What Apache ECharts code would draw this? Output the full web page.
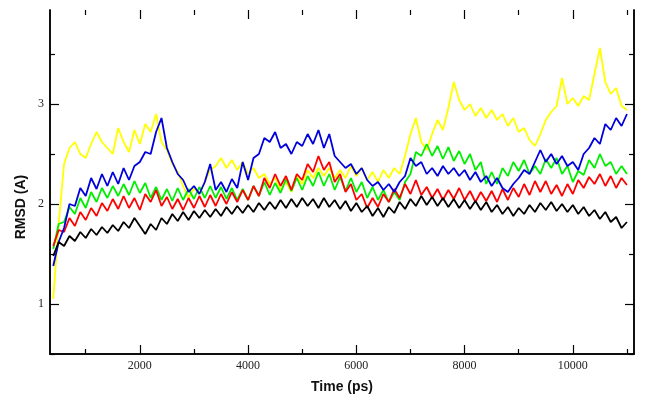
<!DOCTYPE html>
<html>
<head>
<meta charset="utf-8">
<script src="https://cdn.jsdelivr.net/npm/echarts@6/dist/echarts.min.js"></script>
<style>
  html, body { margin: 0; padding: 0; background: #fff; }
  #chart { width: 645px; height: 399px; }
</style>
</head>
<body>
<div id="chart"></div>
<script>
// sampling grid: one reading every 100 ps, 400..11000
const times = [];
for (let t = 400; t <= 11000; t += 100) times.push(t);

const xMajorTicks = [2000, 4000, 6000, 8000, 10000];
const xMinorTicks = [1000, 3000, 5000, 7000, 9000, 11000];
const yMajorTicks = [1, 2, 3];
const yMinorTicks = [0.5, 1.5, 2.5, 3.5];

// RMSD values (A)
const black = [
  1.48,1.62,1.58,1.68,1.63,1.72,1.66,1.75,1.69,1.77,
  1.71,1.79,1.73,1.82,1.76,1.86,1.78,1.70,1.80,1.74,
  1.86,1.80,1.90,1.83,1.92,1.84,1.93,1.86,1.94,1.87,
  1.95,1.88,1.97,1.90,1.98,1.91,1.99,1.92,2.01,1.94,
  2.02,1.95,2.04,1.96,2.05,1.97,2.06,1.98,2.05,1.96,
  2.06,1.97,2.04,1.95,2.03,1.93,2.01,1.92,1.98,1.88,
  1.96,1.87,1.97,1.91,2.02,1.95,2.05,1.98,2.08,1.99,
  2.07,1.98,2.06,1.97,2.05,1.96,2.04,1.95,2.03,1.94,
  2.02,1.92,1.99,1.90,1.97,1.88,1.96,1.90,1.99,1.92,
  2.01,1.94,2.02,1.93,2.00,1.92,1.99,1.90,1.97,1.88,
  1.94,1.85,1.92,1.82,1.87,1.76,1.82
];
const red = [
  1.58,1.74,1.72,1.86,1.78,1.92,1.84,1.96,1.88,2.01,
  1.93,2.05,1.95,2.08,1.96,2.06,1.94,2.10,2.02,2.14,
  1.98,2.07,1.95,2.05,1.94,2.06,1.96,2.08,1.97,2.09,
  1.98,2.10,2.00,2.12,2.02,2.14,2.04,2.18,2.08,2.26,
  2.16,2.30,2.18,2.28,2.14,2.30,2.24,2.40,2.32,2.48,
  2.34,2.42,2.22,2.30,2.12,2.20,2.04,2.10,1.96,2.06,
  1.97,2.10,2.02,2.15,2.06,2.20,2.10,2.24,2.09,2.17,
  2.06,2.15,2.04,2.14,2.05,2.16,2.04,2.13,2.02,2.12,
  2.03,2.13,2.02,2.15,2.04,2.16,2.07,2.20,2.09,2.23,
  2.12,2.23,2.10,2.19,2.08,2.20,2.10,2.24,2.16,2.27,
  2.20,2.30,2.18,2.28,2.16,2.26,2.19
];
const green = [
  1.55,1.80,1.82,1.97,1.90,2.06,1.96,2.12,2.02,2.16,
  2.06,2.18,2.08,2.20,2.09,2.23,2.11,2.21,2.06,2.17,
  2.04,2.15,2.03,2.16,2.04,2.15,2.05,2.17,2.06,2.18,
  2.06,2.17,2.05,2.16,2.04,2.15,2.04,2.18,2.08,2.22,
  2.09,2.21,2.11,2.25,2.13,2.26,2.14,2.28,2.18,2.32,
  2.18,2.30,2.14,2.27,2.13,2.26,2.12,2.22,2.06,2.17,
  2.04,2.14,2.02,2.12,2.04,2.22,2.30,2.52,2.48,2.60,
  2.48,2.58,2.45,2.57,2.43,2.53,2.40,2.50,2.34,2.42,
  2.20,2.32,2.20,2.36,2.28,2.42,2.33,2.44,2.30,2.38,
  2.30,2.45,2.36,2.46,2.30,2.38,2.22,2.33,2.29,2.44,
  2.36,2.50,2.38,2.42,2.30,2.38,2.30
];
const blue = [
  1.38,1.62,1.76,2.00,1.98,2.16,2.08,2.26,2.15,2.30,
  2.18,2.32,2.20,2.36,2.24,2.38,2.42,2.52,2.50,2.72,
  2.86,2.56,2.42,2.30,2.24,2.12,2.18,2.10,2.22,2.40,
  2.14,2.22,2.12,2.25,2.16,2.42,2.24,2.46,2.50,2.66,
  2.62,2.72,2.56,2.60,2.50,2.62,2.58,2.70,2.60,2.74,
  2.56,2.70,2.48,2.42,2.36,2.40,2.30,2.36,2.24,2.18,
  2.22,2.14,2.20,2.12,2.22,2.28,2.46,2.38,2.42,2.30,
  2.36,2.28,2.38,2.30,2.36,2.28,2.34,2.24,2.32,2.22,
  2.28,2.18,2.26,2.16,2.12,2.20,2.26,2.34,2.30,2.42,
  2.54,2.42,2.50,2.40,2.48,2.38,2.42,2.34,2.50,2.56,
  2.66,2.60,2.80,2.74,2.86,2.78,2.90
];
const yellow = [
  1.05,1.80,2.40,2.56,2.62,2.50,2.46,2.60,2.72,2.62,
  2.56,2.50,2.76,2.62,2.52,2.74,2.60,2.80,2.72,2.90,
  2.62,2.54,2.40,2.32,2.18,2.06,2.16,2.10,2.22,2.34,
  2.38,2.46,2.36,2.44,2.34,2.42,2.30,2.36,2.26,2.30,
  2.20,2.26,2.14,2.22,2.12,2.28,2.20,2.34,2.26,2.36,
  2.28,2.36,2.26,2.34,2.26,2.38,2.28,2.36,2.24,2.32,
  2.22,2.34,2.26,2.36,2.30,2.48,2.70,2.86,2.62,2.54,
  2.70,2.84,2.74,2.96,3.22,3.04,2.94,3.00,2.88,2.96,
  2.86,2.94,2.84,2.90,2.78,2.86,2.72,2.76,2.64,2.58,
  2.70,2.84,2.92,2.98,3.26,3.00,3.06,2.98,3.08,3.04,
  3.30,3.56,3.22,3.10,3.16,2.98,2.94
];

const X_MIN = 340, X_MAX = 11130;
const Y_MIN = 0.5, Y_MAX = 3.94;

const chart = echarts.init(document.getElementById('chart'), null, { renderer: 'canvas' });

const axisLine = { show: true, lineStyle: { color: '#000', width: 1.5 } };
const tickFont = { margin: 6, color: '#222', fontFamily: 'Liberation Serif', fontSize: 12, formatter: (v) => String(v) };

const xAxisBase = (position, ticks, len, withLabels) => ({
  type: 'value',
  position,
  min: X_MIN,
  max: X_MAX,
  // the top edge has ticks only, no line
  axisLine: position === 'top' ? { show: false } : axisLine,
  splitLine: { show: false },
  axisTick: { show: true, inside: true, length: len, customValues: ticks, lineStyle: { color: '#000', width: 1.2 } },
  axisLabel: withLabels ? Object.assign({ show: true, customValues: xMajorTicks }, tickFont) : { show: false }
});

const yAxisBase = (position, ticks, len, withLabels) => ({
  type: 'value',
  position,
  min: Y_MIN,
  max: Y_MAX,
  axisLine,
  splitLine: { show: false },
  axisTick: { show: true, inside: true, length: len, customValues: ticks, lineStyle: { color: '#000', width: 1.2 } },
  axisLabel: withLabels ? Object.assign({ show: true, customValues: yMajorTicks }, tickFont) : { show: false }
});

const xBottom = xAxisBase('bottom', xMajorTicks, 9, true);
xBottom.name = 'Time (ps)';
xBottom.nameLocation = 'middle';
xBottom.nameGap = 26;
xBottom.nameTextStyle = { fontFamily: 'Liberation Sans', fontWeight: 'bold', fontSize: 14, color: '#111' };

const mkSeries = (name, values, color) => ({
  name,
  type: 'line',
  xAxisIndex: 0,
  yAxisIndex: 0,
  showSymbol: false,
  symbol: 'none',
  lineStyle: { color, width: 1.8 },
  data: times.map((t, i) => [t, values[i]])
});

chart.setOption({
  animation: false,
  backgroundColor: '#fff',
  grid: { left: 50, right: 11, top: 10, bottom: 45, containLabel: false },
  xAxis: [
    xBottom,
    xAxisBase('bottom', xMinorTicks, 5, false),
    xAxisBase('top', xMajorTicks, 9, false),
    xAxisBase('top', xMinorTicks, 5, false)
  ],
  yAxis: [
    yAxisBase('left', yMajorTicks, 9, true),
    yAxisBase('left', yMinorTicks, 5, false),
    yAxisBase('right', yMajorTicks, 9, false),
    yAxisBase('right', yMinorTicks, 5, false)
  ],
  graphic: [{
    type: 'text',
    x: 21,
    y: 207,
    rotation: Math.PI / 2,
    style: {
      text: 'RMSD (A)',
      fill: '#111',
      font: 'bold 14px "Liberation Sans"',
      align: 'center',
      verticalAlign: 'middle'
    }
  }],
  series: [
    mkSeries('yellow', yellow, '#ffff00'),
    mkSeries('green', green, '#00ee00'),
    mkSeries('red', red, '#ff0000'),
    mkSeries('blue', blue, '#0000dd'),
    mkSeries('black', black, '#000000')
  ]
});
</script>
</body>
</html>
